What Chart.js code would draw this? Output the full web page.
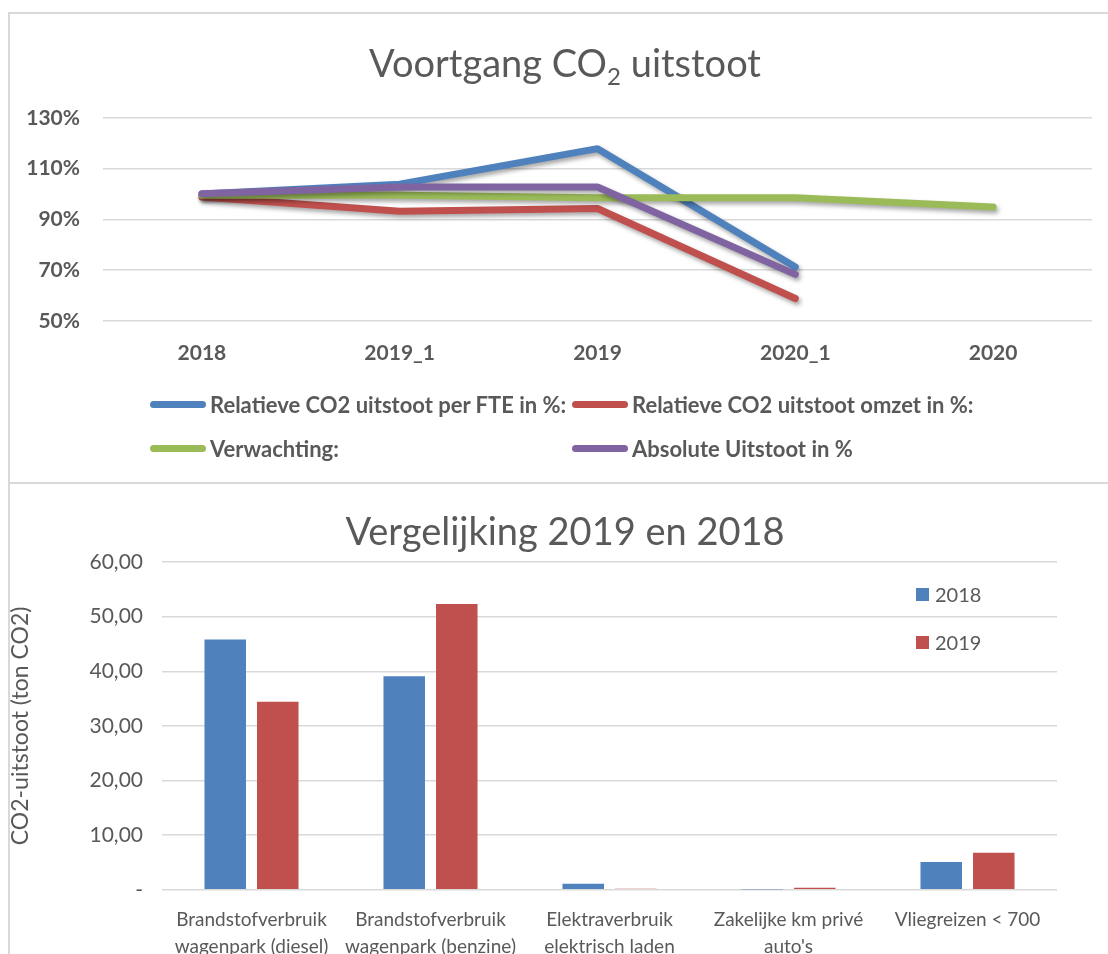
<!DOCTYPE html>
<html>
<head>
<meta charset="utf-8">
<script src="https://cdn.jsdelivr.net/npm/chart.js@4"></script>
<style>
  html, body { margin: 0; padding: 0; background: #fff; overflow: hidden; }
  body { width: 1108px; height: 954px; position: relative; font-family: Lato, 'Open Sans', sans-serif; }
  .box { position: absolute; border: 2px solid #d9d9d9; box-sizing: border-box; }
  #topBox { left: 8px; top: 12px; width: 1120px; height: 472px; }
  #bottomBox { left: 8px; top: 482px; width: 1120px; height: 500px; }
  .wrap { position: absolute; left: 0; width: 1108px; }
  #topWrap { top: 0; height: 480px; }
  #bottomWrap { top: 482px; height: 498px; }
  .title { position: absolute; left: 0; width: 1130px; text-align: center; color: #595959; font-size: 38px; line-height: 46px; white-space: nowrap; }
  .title sub { font-size: 24px; line-height: 0; vertical-align: -8px; }
  .legend { position: absolute; color: #595959; }
  .lg-item { position: absolute; display: flex; align-items: center; font-weight: bold; font-size: 22px; white-space: nowrap; }
  .lg-line { width: 56px; height: 7px; border-radius: 4px; margin-right: 4px; }
  .bar-item { position: absolute; display: flex; align-items: center; font-size: 20px; white-space: nowrap; }
  .bar-box { width: 13px; height: 13px; margin-right: 6px; }
</style>
</head>
<body>
<div class="box" id="topBox"></div>
<div class="box" id="bottomBox"></div>
<div class="wrap" id="topWrap"><canvas id="lineChart" width="1108" height="480"></canvas></div>
<div class="wrap" id="bottomWrap"><canvas id="barChart" width="1108" height="498"></canvas></div>
<div class="title" style="top:39px">Voortgang CO<sub>2</sub> uitstoot</div>
<div class="title" style="top:507px">Vergelijking 2019 en 2018</div>
<div class="legend" id="lineLegend"></div>
<div class="legend" id="barLegend"></div>
<script>
// Voortgang CO2 uitstoot
const lineLabels = ['2018', '2019_1', '2019', '2020_1', '2020'];
const perFte = [100, 103.9, 117.9, 71.2, null];
const perOmzet = [98.8, 93.2, 94.3, 58.8, null];
const verwachting = [99.5, 99.5, 98.5, 98.5, 94.9];
const absoluut = [100.1, 102.8, 102.8, 68.3, null];
const lineNames = ['Relatieve CO2 uitstoot per FTE in %:', 'Relatieve CO2 uitstoot omzet in %:', 'Verwachting:', 'Absolute Uitstoot in %'];
const lineColors = ['#4f81bd', '#c0504d', '#9bbb59', '#8064a2'];

// Vergelijking 2019 en 2018
const barLabels = [
    ['Brandstofverbruik', 'wagenpark (diesel)'],
    ['Brandstofverbruik', 'wagenpark (benzine)'],
    ['Elektraverbruik', 'elektrisch laden'],
    ['Zakelijke km privé', "auto's"],
    ['Vliegreizen < 700']
];
const values2018 = [45.8, 39.1, 1.1, 0.05, 5.1];
const values2019 = [34.4, 52.3, 0.2, 0.37, 6.8];
const barNames = ['2018', '2019'];
const barColors = ['#4f81bd', '#c0504d'];

const GREY = '#595959';
const GRID = '#d9d9d9';
const FONT = "Lato, 'Open Sans', sans-serif";

Chart.defaults.font.family = FONT;
Chart.defaults.color = GREY;
Chart.defaults.animation = false;

// schaduw onder de lijnen
const lineShadow = {
    id: 'lineShadow',
    beforeDatasetDraw(chart) {
        const ctx = chart.ctx;
        ctx.save();
        ctx.shadowColor = 'rgba(0,0,0,0.35)';
        ctx.shadowBlur = 4;
        ctx.shadowOffsetX = 2;
        ctx.shadowOffsetY = 3;
    },
    afterDatasetDraw(chart) {
        chart.ctx.restore();
    }
};

function initLineChart() {
    const series = [perFte, perOmzet, verwachting, absoluut];
    new Chart(document.getElementById('lineChart'), {
        type: 'line',
        plugins: [lineShadow],
        data: {
            labels: lineLabels,
            datasets: series.map((d, i) => ({
                label: lineNames[i],
                data: d,
                borderColor: lineColors[i],
                backgroundColor: lineColors[i],
                borderWidth: 7,
                borderCapStyle: 'round',
                borderJoinStyle: 'round',
                pointRadius: 0,
                tension: 0,
                order: 4 - i
            }))
        },
        options: {
            responsive: false,
            layout: { padding: { left: 0, right: 16, top: 118, bottom: 94 } },
            plugins: {
                legend: { display: false },
                tooltip: { enabled: false },
                title: { display: false }
            },
            scales: {
                y: {
                    min: 50,
                    max: 130,
                    ticks: {
                        stepSize: 20,
                        padding: 23,
                        color: GREY,
                        font: { size: 21, weight: 'bold' },
                        callback: v => v + '%'
                    },
                    grid: { color: GRID, lineWidth: 1.5, drawTicks: false },
                    border: { display: false },
                    afterFit(scale) { scale.width = 103; }
                },
                x: {
                    offset: true,
                    ticks: { padding: 20, color: GREY, font: { size: 21, weight: 'bold' } },
                    grid: { display: false, drawTicks: false, offset: true },
                    border: { display: false }
                }
            }
        }
    });

    const legend = document.getElementById('lineLegend');
    const pos = [[150, 405], [572, 405], [150, 449], [572, 449]];
    lineNames.forEach((name, i) => {
        const item = document.createElement('div');
        item.className = 'lg-item';
        item.style.left = pos[i][0] + 'px';
        item.style.top = (pos[i][1] - 14) + 'px';
        item.innerHTML = `<span class="lg-line" style="background:${lineColors[i]}"></span><span>${name}</span>`;
        legend.appendChild(item);
    });
}

function initBarChart() {
    const series = [values2018, values2019];
    new Chart(document.getElementById('barChart'), {
        type: 'bar',
        data: {
            labels: barLabels,
            datasets: series.map((d, i) => ({
                label: barNames[i],
                data: d,
                backgroundColor: barColors[i],
                categoryPercentage: 0.587,
                barPercentage: 0.79
            }))
        },
        options: {
            responsive: false,
            layout: { padding: { left: 0, right: 51, top: 80, bottom: 3 } },
            plugins: {
                legend: { display: false },
                tooltip: { enabled: false },
                title: { display: false }
            },
            scales: {
                y: {
                    min: 0,
                    max: 60,
                    ticks: {
                        stepSize: 10,
                        padding: 19,
                        color: GREY,
                        font: { size: 21 },
                        callback: v => v === 0 ? '-' : v.toFixed(2).replace('.', ',')
                    },
                    title: {
                        display: true,
                        text: 'CO2-uitstoot (ton CO2)',
                        color: GREY,
                        font: { size: 23 },
                        padding: { top: 7, bottom: 0 }
                    },
                    grid: { color: GRID, lineWidth: 1.5, drawTicks: false },
                    border: { display: false },
                    afterFit(scale) { scale.width = 162; }
                },
                x: {
                    ticks: {
                        padding: 17,
                        color: GREY,
                        autoSkip: false,
                        maxRotation: 0,
                        font: { size: 19, lineHeight: 1.4 }
                    },
                    grid: { display: false, drawTicks: false },
                    border: { display: false }
                }
            }
        }
    });

    const legend = document.getElementById('barLegend');
    const pos = [[916, 595], [916, 643]];
    barNames.forEach((name, i) => {
        const item = document.createElement('div');
        item.className = 'bar-item';
        item.style.left = pos[i][0] + 'px';
        item.style.top = (pos[i][1] - 13) + 'px';
        item.innerHTML = `<span class="bar-box" style="background:${barColors[i]}"></span><span>${name}</span>`;
        legend.appendChild(item);
    });
}

document.addEventListener('DOMContentLoaded', () => {
    initLineChart();
    initBarChart();
});
</script>
</body>
</html>
